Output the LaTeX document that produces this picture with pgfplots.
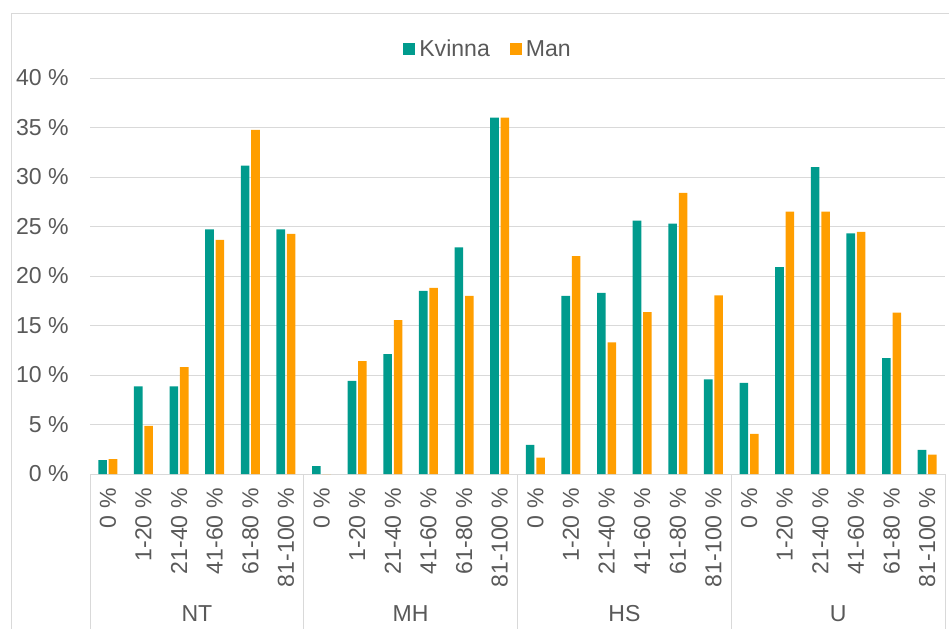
\documentclass[border=0pt]{standalone}
\usepackage{pgfplots}
\pgfplotsset{compat=1.18}
\usepackage{pgfplotstable}
\usepackage{fontspec}
\setmainfont{Liberation Sans}
\definecolor{tealc}{HTML}{009B8D}
\definecolor{orngc}{HTML}{FF9E00}
\definecolor{gridc}{HTML}{D9D9D9}
\definecolor{txtc}{HTML}{595959}
\newcommand\lf{\fontsize{17.3pt}{20pt}\selectfont}

\pgfplotstableread{
x  k      m
0  1.4    1.5
1  8.85   4.85
2  8.85   10.8
3  24.7   23.65
4  31.15  34.75
5  24.7   24.25
6  0.8    0
7  9.4    11.4
8  12.1   15.55
9  18.5   18.8
10 22.9   18.0
11 36.0   36.0
12 2.95   1.65
13 18.0   22.0
14 18.3   13.3
15 25.6   16.35
16 25.3   28.4
17 9.55   18.05
18 9.2    4.05
19 20.9   26.5
20 31.0   26.5
21 24.3   24.45
22 11.7   16.3
23 2.45   1.95
}\datatab

\begin{document}
\begin{tikzpicture}
\useasboundingbox (0,0) rectangle (711.75pt,-471pt);
\clip (0,0) rectangle (711.75pt,-471pt);
\draw[gridc, line width=0.75pt] (8.25pt,-480pt) -- (8.25pt,-9.75pt) -- (720pt,-9.75pt);
\begin{axis}[
  at={(67.5pt,-355.5pt)}, anchor=south west,
  scale only axis, width=641.25pt, height=297pt,
  ymin=0, ymax=40, xmin=-0.5, xmax=23.5,
  clip=false,
  ytick={0,5,10,15,20,25,30,35,40},
  yticklabels={0 \%,5 \%,10 \%,15 \%,20 \%,25 \%,30 \%,35 \%,40 \%},
  xtick={0,...,23},
  xticklabels={0 \%,1-20 \%,21-40 \%,41-60 \%,61-80 \%,81-100 \%,
               0 \%,1-20 \%,21-40 \%,41-60 \%,61-80 \%,81-100 \%,
               0 \%,1-20 \%,21-40 \%,41-60 \%,61-80 \%,81-100 \%,
               0 \%,1-20 \%,21-40 \%,41-60 \%,61-80 \%,81-100 \%},
  axis line style={draw=none},
  major tick length=0pt,
  tick style={draw=none},
  ymajorgrids,
  grid style={gridc, line width=0.75pt},
  yticklabel style={font=\lf, text=txtc, anchor=east, inner sep=0pt},
  yticklabel shift=15.75pt,
  xticklabel style={font=\lf, text=txtc, rotate=90, anchor=east, inner sep=0pt},
  xticklabel shift=10.5pt,
  ybar=1.4pt, bar width=6.4pt,
  legend columns=2,
  legend style={at={(0.4667,1.073)}, anchor=center, draw=none, fill=none,
    font=\lf, text=txtc, nodes={inner sep=3pt},
    /tikz/every even column/.append style={column sep=12pt}},
  legend image code/.code={\fill[#1] (0pt,-4.5pt) rectangle (9pt,4.5pt);},
]
\addplot[fill=tealc, draw=none] table[x=x, y=k] {\datatab};
\addlegendentry{Kvinna}
\addplot[fill=orngc, draw=none] table[x=x, y=m] {\datatab};
\addlegendentry{Man}
\draw[gridc, line width=0.75pt] (axis cs:-0.5,0) -- ++(0pt,-130pt);
\draw[gridc, line width=0.75pt] (axis cs:5.5,0) -- ++(0pt,-130pt);
\draw[gridc, line width=0.75pt] (axis cs:11.5,0) -- ++(0pt,-130pt);
\draw[gridc, line width=0.75pt] (axis cs:17.5,0) -- ++(0pt,-130pt);
\draw[gridc, line width=0.75pt] (axis cs:23.5,0) -- ++(0pt,-130pt);
\node[font=\lf, text=txtc, anchor=base] at ([yshift=-110.8pt]axis cs:2.5,0) {NT};
\node[font=\lf, text=txtc, anchor=base] at ([yshift=-110.8pt]axis cs:8.5,0) {MH};
\node[font=\lf, text=txtc, anchor=base] at ([yshift=-110.8pt]axis cs:14.5,0) {HS};
\node[font=\lf, text=txtc, anchor=base] at ([yshift=-110.8pt]axis cs:20.5,0) {U};
\end{axis}
\end{tikzpicture}
\end{document}
